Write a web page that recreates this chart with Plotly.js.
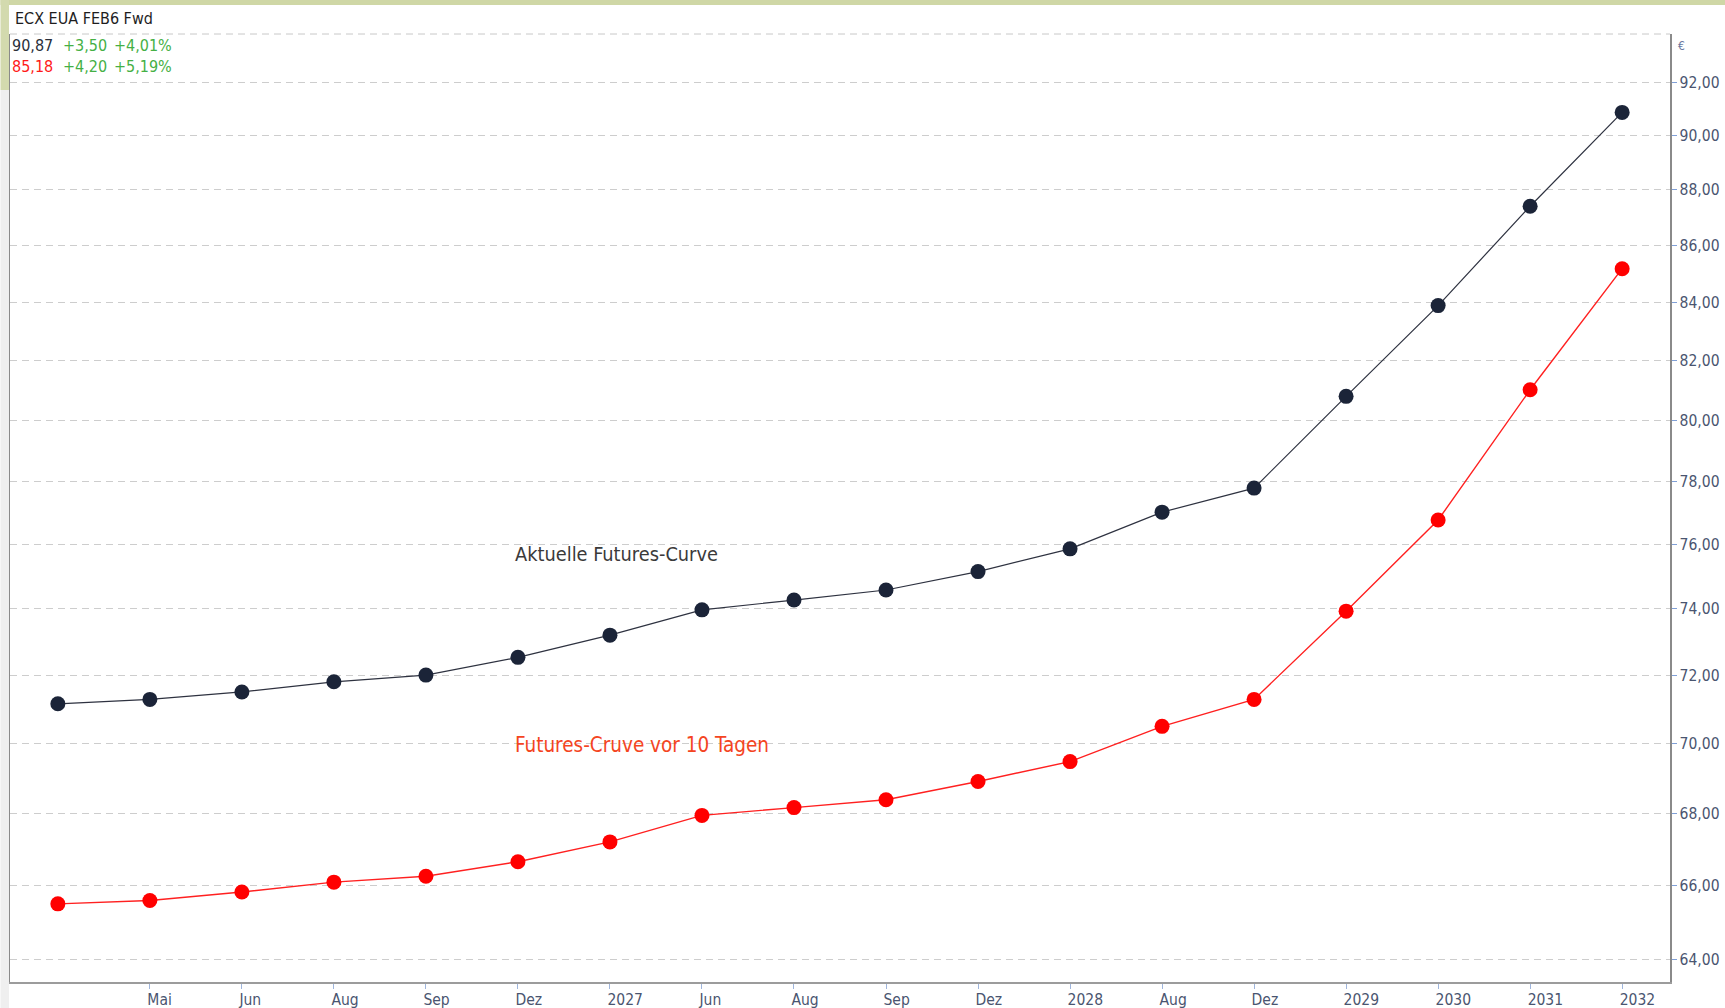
<!DOCTYPE html>
<html>
<head>
<meta charset="utf-8">
<script src="https://cdn.plot.ly/plotly-3.0.1.min.js"></script>
<style>
html,body{margin:0;padding:0;background:#ffffff;}
#chart{width:1725px;height:1008px;}
</style>
</head>
<body>
<div id="chart"></div>
<script>
// ---- data ----
const contracts = ['', 'Mai', 'Jun', 'Aug', 'Sep', 'Dez', '2027', 'Jun', 'Aug', 'Sep', 'Dez', '2028', 'Aug', 'Dez', '2029', '2030', '2031', '2032'];
const currentCurve = [71.15, 71.28, 71.50, 71.80, 72.00, 72.53, 73.20, 73.97, 74.27, 74.58, 75.15, 75.86, 77.02, 77.79, 80.80, 83.89, 87.41, 90.87];
const curve10DaysAgo = [65.50, 65.59, 65.82, 66.09, 66.25, 66.65, 67.20, 67.94, 68.16, 68.38, 68.90, 69.47, 70.49, 71.28, 73.93, 76.77, 81.02, 85.18];
const yTicks = [64, 66, 68, 70, 72, 74, 76, 78, 80, 82, 84, 86, 88, 90, 92];
const yTickText = yTicks.map(v => v.toFixed(2).replace('.', ','));
const headerTitle = 'ECX EUA FEB6 Fwd';
const row1 = ['90,87', '+3,50', '+4,01%'];
const row2 = ['85,18', '+4,20', '+5,19%'];
const labelCurrent = 'Aktuelle Futures-Curve';
const label10Days = 'Futures-Cruve vor 10 Tagen';

// ---- layout geometry ----
const W = 1725, H = 1008;
const L = 9.5, R = 1670, T = 34, B = 982;
const px2x = p => (p - L) / (R - L);
const py2y = p => (B - p) / (B - T);
const FONT = 'DejaVu Sans Condensed, DejaVu Sans, sans-serif';

const xIdx = contracts.map((_, i) => i);
const tickIdx = xIdx.slice(1);
const tickTxt = contracts.slice(1);

const traces = [
  {
    x: xIdx, y: currentCurve, type: 'scatter', mode: 'lines+markers',
    line: {color: '#2e3240', width: 1.2},
    marker: {color: '#1b2438', size: 15},
    hoverinfo: 'skip', showlegend: false
  },
  {
    x: xIdx, y: curve10DaysAgo, type: 'scatter', mode: 'lines+markers',
    line: {color: '#ff2020', width: 1.4},
    marker: {color: '#ff0000', size: 15},
    hoverinfo: 'skip', showlegend: false
  }
];

const hdrFont = (c) => ({family: FONT, size: 16, color: c});

const annotations = [
  {xref: 'paper', yref: 'paper', x: px2x(12.5), y: py2y(19), xanchor: 'left', yanchor: 'middle',
   text: headerTitle, showarrow: false, font: hdrFont('#1e1e1e')},
  {xref: 'paper', yref: 'paper', x: px2x(10), y: py2y(46), xanchor: 'left', yanchor: 'middle',
   text: row1[0], showarrow: false, font: hdrFont('#2a2f3a')},
  {xref: 'paper', yref: 'paper', x: px2x(60.5), y: py2y(46), xanchor: 'left', yanchor: 'middle',
   text: row1[1], showarrow: false, font: hdrFont('#45b045')},
  {xref: 'paper', yref: 'paper', x: px2x(112), y: py2y(46), xanchor: 'left', yanchor: 'middle',
   text: row1[2], showarrow: false, font: hdrFont('#45b045')},
  {xref: 'paper', yref: 'paper', x: px2x(10), y: py2y(67), xanchor: 'left', yanchor: 'middle',
   text: row2[0], showarrow: false, font: hdrFont('#ff1a1a')},
  {xref: 'paper', yref: 'paper', x: px2x(60.5), y: py2y(67), xanchor: 'left', yanchor: 'middle',
   text: row2[1], showarrow: false, font: hdrFont('#45b045')},
  {xref: 'paper', yref: 'paper', x: px2x(112), y: py2y(67), xanchor: 'left', yanchor: 'middle',
   text: row2[2], showarrow: false, font: hdrFont('#45b045')},
  {xref: 'paper', yref: 'paper', x: px2x(1676), y: py2y(46), xanchor: 'left', yanchor: 'middle',
   text: '€', showarrow: false, font: {family: FONT, size: 12, color: '#6a78a0'}},
  {xref: 'x', yref: 'y', x: 5, y: Math.log10(75.67), xanchor: 'left', yanchor: 'middle',
   xshift: -5, text: labelCurrent, showarrow: false, font: {family: FONT, size: 19.8, color: '#3a3a3a'}},
  {xref: 'x', yref: 'y', x: 5, y: Math.log10(69.95), xanchor: 'left', yanchor: 'middle',
   xshift: -5, text: label10Days, showarrow: false, font: {family: FONT, size: 20.5, color: '#f4451f'}}
];

const shapes = [
  {type: 'rect', xref: 'paper', yref: 'paper', layer: 'below',
   x0: px2x(0), x1: px2x(W), y0: py2y(0), y1: py2y(5), fillcolor: '#cfd7a6', line: {width: 0}},
  {type: 'rect', xref: 'paper', yref: 'paper', layer: 'below',
   x0: px2x(0), x1: px2x(8.5), y0: py2y(0), y1: py2y(90), fillcolor: '#d3daae', line: {width: 0}},
  {type: 'rect', xref: 'paper', yref: 'paper', layer: 'below',
   x0: px2x(0), x1: px2x(8.5), y0: py2y(90), y1: py2y(H), fillcolor: '#efefef', line: {width: 0}},
  {type: 'line', xref: 'paper', yref: 'paper', x0: 0, x1: 1, y0: 1, y1: 1,
   line: {color: '#c8c8c8', width: 1, dash: '7px,5px'}}
];

const layout = {
  width: W, height: H,
  margin: {l: L, r: W - R, t: T, b: H - B, pad: 0},
  paper_bgcolor: '#ffffff',
  plot_bgcolor: '#ffffff',
  font: {family: FONT, size: 15.5, color: '#4a5570'},
  showlegend: false,
  xaxis: {
    range: [-0.52, 17.52],
    tickmode: 'array', tickvals: tickIdx, ticktext: tickTxt,
    ticks: 'outside', ticklen: 5, tickwidth: 1, tickcolor: '#9fb5dc',
    ticklabelposition: 'outside right',
    ticklabelshift: -4,
    ticklabelstandoff: 2,
    tickfont: {family: FONT, size: 15.5, color: '#4a5570'},
    showgrid: false, zeroline: false,
    showline: true, linecolor: '#9c9c9c', linewidth: 2,
    fixedrange: true
  },
  yaxis: {
    type: 'log',
    range: [1.8022, 1.9725],
    side: 'right',
    tickmode: 'array', tickvals: yTicks, ticktext: yTickText,
    ticks: 'outside', ticklen: 5, tickwidth: 1, tickcolor: '#7f9fd6',
    tickfont: {family: FONT, size: 15.5, color: '#4a5570'},
    showgrid: true, gridcolor: '#cdcdcd', gridwidth: 1, griddash: '7px,5px',
    zeroline: false,
    showline: true, mirror: true, linecolor: '#8a8a8a', linewidth: 1.5,
    fixedrange: true
  },
  annotations: annotations,
  shapes: shapes
};

Plotly.newPlot('chart', traces, layout, {displayModeBar: false, staticPlot: true});
</script>
</body>
</html>
